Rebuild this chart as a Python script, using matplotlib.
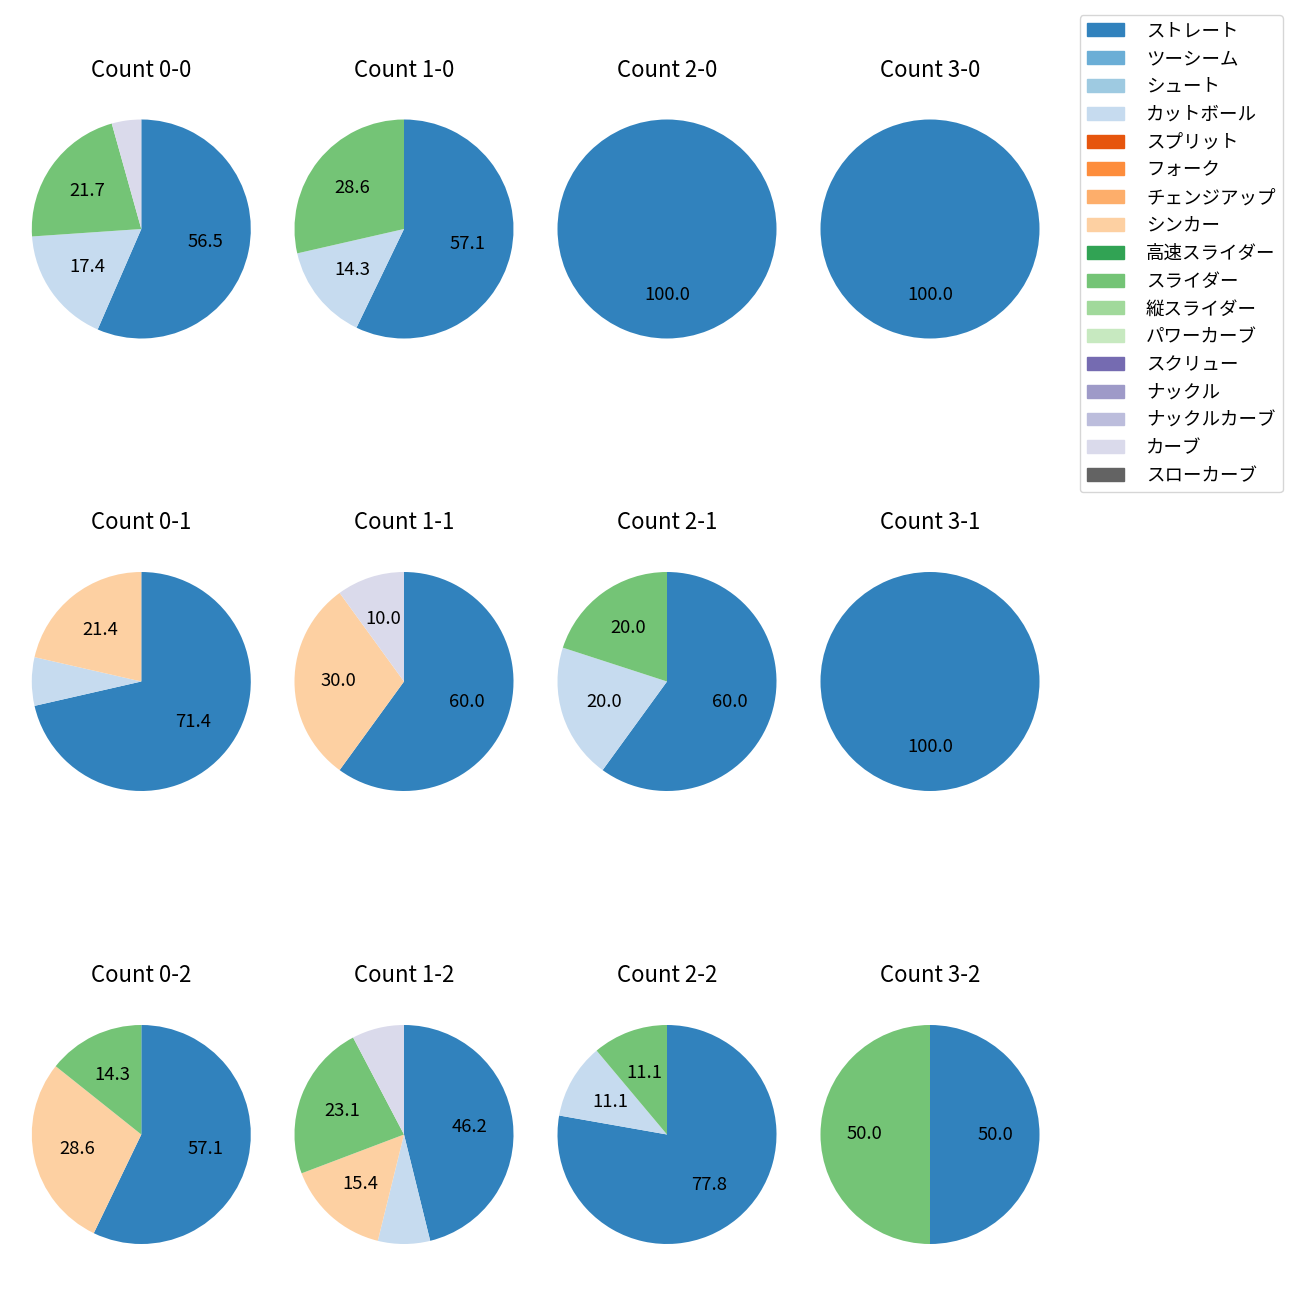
import matplotlib.pyplot as plt
from matplotlib.patches import Patch

plt.rcParams['font.family'] = ['Noto Sans CJK JP', 'DejaVu Sans']

pitch_types = ['ストレート', 'ツーシーム', 'シュート', 'カットボール', 'スプリット',
               'フォーク', 'チェンジアップ', 'シンカー', '高速スライダー', 'スライダー',
               '縦スライダー', 'パワーカーブ', 'スクリュー', 'ナックル', 'ナックルカーブ',
               'カーブ', 'スローカーブ']

counts = ['0-0', '1-0', '2-0', '3-0',
          '0-1', '1-1', '2-1', '3-1',
          '0-2', '1-2', '2-2', '3-2']

# pitches thrown per count (only types that appear)
straight = [13, 4, 1, 1, 10, 6, 3, 1, 4, 6, 7, 1]
cutter = [4, 1, 0, 0, 1, 0, 1, 0, 0, 1, 1, 0]
sinker = [0, 0, 0, 0, 3, 3, 0, 0, 2, 2, 0, 0]
slider = [5, 2, 0, 0, 0, 0, 1, 0, 1, 3, 1, 1]
curve = [1, 0, 0, 0, 0, 1, 0, 0, 0, 1, 0, 0]

series = {'ストレート': straight, 'カットボール': cutter, 'シンカー': sinker,
          'スライダー': slider, 'カーブ': curve}

cmap = plt.get_cmap('tab20c')
colors = {name: cmap(i) for i, name in enumerate(pitch_types)}

fig = plt.figure(figsize=(13, 13), dpi=100)
W = H = 1300.0
radius_px = 109.5
side = 2.5 * radius_px
col_x = [141.3, 404, 667, 930]
row_y = [229, 681.5, 1134.5]

for k, cnt in enumerate(counts):
    r, c = divmod(k, 4)
    cx, cy = col_x[c], row_y[r]
    ax = fig.add_axes([(cx - side / 2) / W, 1 - (cy + side / 2) / H, side / W, side / H])
    vals, cols = [], []
    for name in pitch_types:
        if name in series and series[name][k] > 0:
            vals.append(series[name][k])
            cols.append(colors[name])
    ax.pie(vals, colors=cols, startangle=90, counterclock=False,
           autopct=lambda p: f'{p:.1f}' if p > 9.5 else '',
           textprops={'fontsize': 13.3})
    ax.set_title(f'Count {cnt}', fontsize=16, pad=11)

handles = [Patch(color=colors[n], label=n) for n in pitch_types]
fig.legend(handles=handles, loc='upper right', bbox_to_anchor=(1283 / W, 1 - 15 / H),
           borderaxespad=0, fontsize=13.3, handletextpad=1.2, labelspacing=0.53)

fig.savefig('out.png', dpi=100)
